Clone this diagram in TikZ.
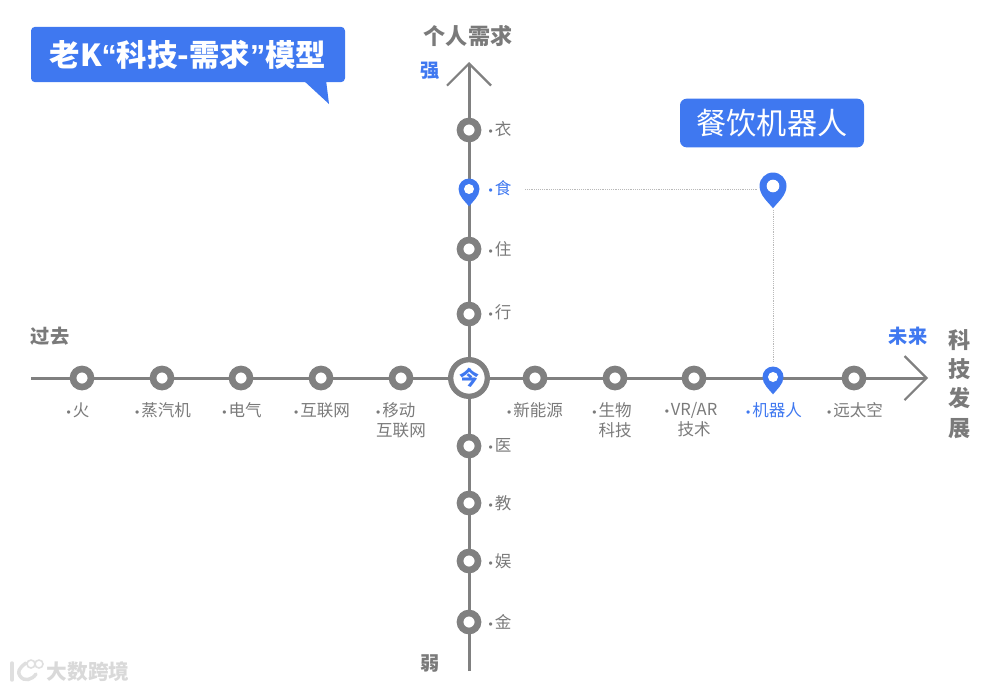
\documentclass[tikz,border=0pt]{standalone}
\usepackage{fontspec}
\usepackage{xcolor}
\usetikzlibrary{arrows.meta}
\setmainfont{Noto Sans CJK SC}
\newfontfamily\latinfont{Liberation Sans}
\definecolor{axisgray}{HTML}{808080}
\definecolor{textgray}{HTML}{7A7A7A}
\definecolor{pinblue}{HTML}{3F78F0}
\newcommand{\dotmark}{{\latinfont\fontsize{9}{9}\selectfont •\hspace{1.5pt}}}
\tikzset{
    axisline/.style={draw=axisgray, line width=2.25pt, -{Straight Barb[length=16.5pt, width=33pt, line width=1.6pt]}},
    station/.style={circle, draw=axisgray, line width=5pt, fill=white, minimum size=13.5pt, inner sep=0pt},
    pinhole/.style={circle, fill=white, minimum size=#1, inner sep=0pt},
    itemtext/.style={text=textgray, font=\fontsize{12.4}{15}\selectfont},
    hottext/.style={text=pinblue, font=\fontsize{12.4}{15}\selectfont},
    headtext/.style={text=textgray, font=\fontsize{16.6}{20}\selectfont\bfseries},
    endtext/.style={text=textgray, font=\fontsize{14.4}{18}\selectfont\bfseries},
    bluetext/.style={text=pinblue, font=\fontsize{14.4}{18}\selectfont\bfseries},
    guide/.style={draw=gray!55, line width=0.4pt, densely dotted},
    banner/.style={fill=pinblue, rounded corners=3pt, text=white, inner sep=0pt},
    pinmark/.pic={\fill[pinblue] (0,1.65) .. controls (-0.35,1.2) and (-1,0.7) .. (-1,0) arc[start angle=180, end angle=360, radius=1] .. controls (1,0.7) and (0.35,1.2) .. (0,1.65) -- cycle;}
}
\begin{document}
\begin{tikzpicture}[x=0.75pt, y=-0.75pt]
    \useasboundingbox (0,0) rectangle (995,690);

    % Axes
    \coordinate (timestart) at (31,378);
    \coordinate (timeend) at (928,378);
    \coordinate (needstart) at (469,671);
    \coordinate (needend) at (469,62);
    \draw[axisline] (timestart) -- (timeend);
    \draw[axisline] (needstart) -- (needend);

    % Title banners
    \fill[pinblue] (303,80) -- (329,104) -- (326,80) -- cycle;
    \node[banner, minimum width=235.5pt, minimum height=41.5pt, font=\fontsize{22.8}{26}\selectfont\bfseries] (title) at (188,54.5) {老K{\latinfont“}科技-需求{\latinfont”}模型};
    \node[banner, rounded corners=5pt, minimum width=138pt, minimum height=36.5pt, font=\fontsize{22.6}{26}\selectfont] (robotbanner) at (772,123) {餐饮机器人};

    % Past stations
    \node[station] (fire) at (82,378) {};
    \node[station] (steam) at (162,378) {};
    \node[station] (power) at (241,378) {};
    \node[station] (web) at (321,378) {};
    \node[station] (mobile) at (401,378) {};
    \node[itemtext] (firetext) at (78,410) {\dotmark 火};
    \node[itemtext] (steamtext) at (163,410) {\dotmark 蒸汽机};
    \node[itemtext] (powertext) at (242,410) {\dotmark 电气};
    \node[itemtext] (webtext) at (322,410) {\dotmark 互联网};
    \node[itemtext, align=left] (mobiletext) at (401,420) {\dotmark 移动\\互联网};

    % Future stations
    \node[station] (energy) at (535,378) {};
    \node[station] (bio) at (615,378) {};
    \node[station] (vrar) at (694,378) {};
    \node[station] (space) at (854,378) {};
    \node[itemtext] (energytext) at (535,410) {\dotmark 新能源};
    \node[itemtext, align=left] (biotext) at (612,420) {\dotmark 生物\\\phantom{\dotmark}科技};
    \node[itemtext, align=center] (vrartext) at (691,420) {\dotmark VR/AR\\\phantom{\dotmark}技术};
    \node[hottext] (robottext) at (774,410) {\dotmark 机器人};
    \node[itemtext] (spacetext) at (855,410) {\dotmark 远太空};

    % Need stations
    \node[station] (clothes) at (469,130) {};
    \node[station] (housing) at (469,249) {};
    \node[station] (travel) at (469,314) {};
    \node[station] (medical) at (469,446) {};
    \node[station] (school) at (469,503) {};
    \node[station] (leisure) at (469,561) {};
    \node[station] (finance) at (469,622) {};
    \node[itemtext, anchor=west] (clothestext) at (484,129) {\dotmark 衣};
    \node[hottext, anchor=west] (foodtext) at (484,188) {\dotmark 食};
    \node[itemtext, anchor=west] (housingtext) at (484,249) {\dotmark 住};
    \node[itemtext, anchor=west] (traveltext) at (484,312) {\dotmark 行};
    \node[itemtext, anchor=west] (medicaltext) at (484,445) {\dotmark 医};
    \node[itemtext, anchor=west] (schooltext) at (484,503) {\dotmark 教};
    \node[itemtext, anchor=west] (leisuretext) at (484,561) {\dotmark 娱};
    \node[itemtext, anchor=west] (financetext) at (484,622) {\dotmark 金};

    % Centre
    \node[circle, draw=axisgray, line width=4pt, fill=white, minimum size=27.5pt, inner sep=0pt, text=pinblue, font=\fontsize{15}{17}\selectfont\bfseries] (now) at (469,378) {今};

    % Pins
    \pic[scale=10.5] at (469,189) {pinmark};
    \node[pinhole=7.5pt] (foodpin) at (469,189) {};
    \pic[scale=10.5] at (773,377) {pinmark};
    \node[pinhole=7.5pt] (robotpin) at (773,377) {};
    \pic[scale=13.5] at (773,186) {pinmark};
    \node[pinhole=9.5pt] (bigpin) at (773,186) {};

    % Guides
    \coordinate (guidestart) at (525,189);
    \coordinate (guideleft) at (758,189);
    \coordinate (guidetop) at (773,210);
    \coordinate (guidebottom) at (773,363);
    \draw[guide] (guidestart) -- (guideleft);
    \draw[guide] (guidetop) -- (guidebottom);

    % Axis labels
    \node[headtext] (needhead) at (468,36) {个人需求};
    \node[bluetext] (strong) at (430,71) {强};
    \node[endtext] (weak) at (430,663) {弱};
    \node[endtext] (past) at (50,336) {过去};
    \node[bluetext] (future) at (908,336) {未来};
    \node[headtext, align=center, font=\fontsize{16.6}{22}\selectfont\bfseries] (techhead) at (960,384) {科\\技\\发\\展};

    % Watermark
    \node[text=gray!30, font=\fontsize{15.5}{18}\selectfont\bfseries] (mark) at (88,672) {大数跨境};
    \draw[gray!25, line width=2.6pt, line cap=round] (12,663) -- (12,680);
    \draw[gray!25, line width=2.6pt, line cap=round] (26,663) .. controls (19,668) and (17,672) .. (20,676) .. controls (24,682) and (32,680) .. (36,674);
    \draw[gray!25, line width=1.2pt] (31,664) circle[radius=4];
    \draw[gray!25, line width=1.2pt] (39,664) circle[radius=4];
\end{tikzpicture}
\end{document}
